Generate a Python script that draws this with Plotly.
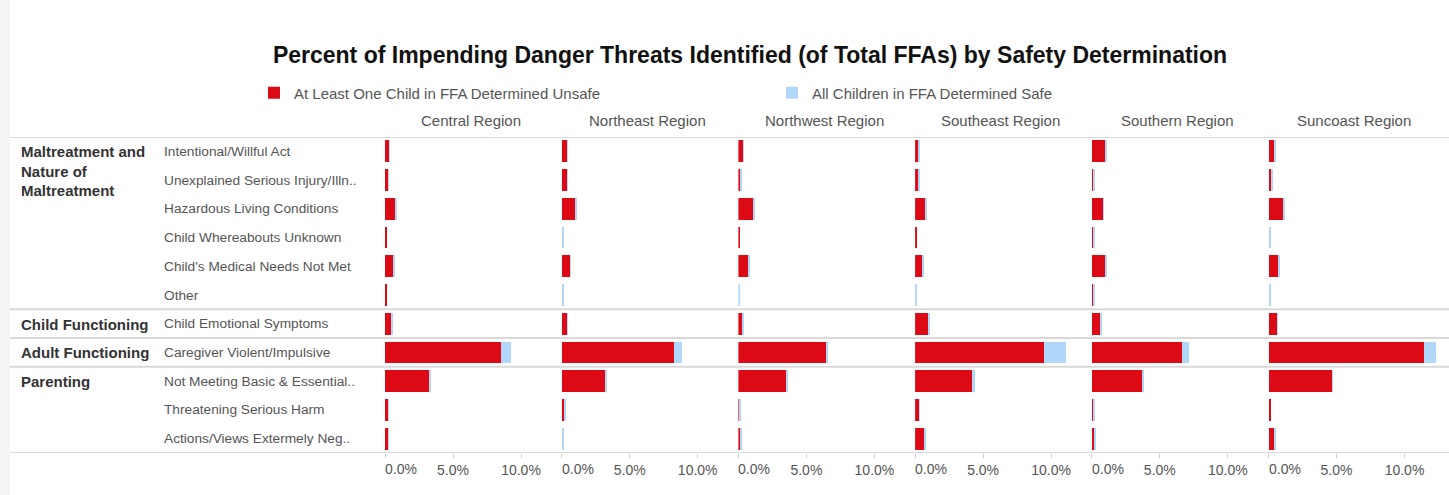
import plotly.graph_objects as go

W, H = 1449, 495

regions = ['Central Region', 'Northeast Region', 'Northwest Region',
           'Southeast Region', 'Southern Region', 'Suncoast Region']

threats = ['Intentional/Willful Act', 'Unexplained Serious Injury/Illn..',
           'Hazardous Living Conditions', 'Child Whereabouts Unknown',
           "Child's Medical Needs Not Met", 'Other',
           'Child Emotional Symptoms', 'Caregiver Violent/Impulsive',
           'Not Meeting Basic & Essential..', 'Threatening Serious Harm',
           'Actions/Views Extermely Neg..']

groups = ['Maltreatment and<br>Nature of<br>Maltreatment', 'Child Functioning',
          'Adult Functioning', 'Parenting']
group_first_row = [0, 6, 7, 8]

tick_values = [0, 5, 10]
tick_labels = ['0.0%', '5.0%', '10.0%']

# percent of FFAs, red segment (unsafe) and light-blue segment (safe)
unsafe_central = [0.30, 0.25, 0.79, 0.10, 0.66, 0.10, 0.47, 8.50, 3.20, 0.24, 0.25]
safe_central = [0.05, 0.03, 0.06, 0.00, 0.05, 0.00, 0.05, 0.74, 0.20, 0.03, 0.04]

unsafe_northeast = [0.37, 0.37, 1.00, 0.00, 0.59, 0.00, 0.37, 8.24, 3.20, 0.17, 0.07]
safe_northeast = [0.07, 0.03, 0.07, 0.08, 0.07, 0.08, 0.07, 0.61, 0.10, 0.07, 0.03]

unsafe_northwest = [0.37, 0.20, 1.13, 0.15, 0.80, 0.00, 0.34, 6.50, 3.55, 0.10, 0.20]
safe_northwest = [0.07, 0.07, 0.07, 0.00, 0.08, 0.08, 0.10, 0.07, 0.10, 0.05, 0.05]

unsafe_southeast = [0.27, 0.27, 0.80, 0.12, 0.56, 0.00, 0.93, 9.50, 4.20, 0.30, 0.73]
safe_southeast = [0.07, 0.03, 0.08, 0.00, 0.10, 0.08, 0.17, 1.60, 0.20, 0.04, 0.05]

unsafe_southern = [0.96, 0.10, 0.81, 0.10, 0.96, 0.10, 0.61, 6.65, 3.70, 0.10, 0.22]
safe_southern = [0.17, 0.07, 0.07, 0.07, 0.07, 0.07, 0.08, 0.53, 0.10, 0.07, 0.07]

unsafe_suncoast = [0.42, 0.22, 1.03, 0.00, 0.71, 0.00, 0.59, 11.45, 4.64, 0.14, 0.42]
safe_suncoast = [0.07, 0.07, 0.10, 0.08, 0.10, 0.08, 0.07, 0.85, 0.06, 0.00, 0.07]

unsafe = [unsafe_central, unsafe_northeast, unsafe_northwest,
          unsafe_southeast, unsafe_southern, unsafe_suncoast]
safe = [safe_central, safe_northeast, safe_northwest,
        safe_southeast, safe_southern, safe_suncoast]

RED = '#DC0A14'
BLUE = '#B0D6FA'
FONT = 'Liberation Sans, Arial, sans-serif'


def px(x):
    return x / W


def py(y):
    return 1 - y / H


fig = go.Figure()

for i, reg in enumerate(regions):
    xa = 'x' if i == 0 else f'x{i + 1}'
    fig.add_trace(go.Bar(y=threats, x=unsafe[i], orientation='h', xaxis=xa, yaxis='y',
                         marker=dict(color=RED, line=dict(width=0)), width=0.76,
                         name='At Least One Child in FFA Determined Unsafe',
                         showlegend=(i == 0), legend='legend'))
    fig.add_trace(go.Bar(y=threats, x=safe[i], orientation='h', xaxis=xa, yaxis='y',
                         marker=dict(color=BLUE, line=dict(width=0)), width=0.76,
                         name='All Children in FFA Determined Safe',
                         showlegend=(i == 0), legend='legend2'))

layout = dict(
    width=W, height=H,
    margin=dict(l=0, r=0, t=0, b=0, autoexpand=False),
    paper_bgcolor='white', plot_bgcolor='white',
    barmode='stack', bargap=0.24,
    font=dict(family=FONT, size=13, color='#555555'),
    title=dict(text='<b>Percent of Impending Danger Threats Identified (of Total FFAs) by Safety Determination</b>',
               x=px(750), xanchor='center', y=py(55), yanchor='middle',
               font=dict(size=23, color='#111111', family=FONT)),
    yaxis=dict(domain=[py(453), py(137)], type='category', categoryorder='array',
               categoryarray=threats, range=[10.5, -0.5], showticklabels=False,
               showgrid=False, zeroline=False, showline=False, anchor='x',
               automargin=False),
    legend=dict(orientation='h', x=px(254), y=py(93), xanchor='left', yanchor='middle',
                font=dict(size=15, color='#555555'), bgcolor='rgba(0,0,0,0)'),
    legend2=dict(orientation='h', x=px(772), y=py(93), xanchor='left', yanchor='middle',
                 font=dict(size=15, color='#555555'), bgcolor='rgba(0,0,0,0)'),
    showlegend=True,
)

step = 176.7
pw = 13.6 * 12.6
annotations = []
for i, reg in enumerate(regions):
    x0 = 385 + step * i
    xr = 'x' if i == 0 else f'x{i + 1}'
    key = 'xaxis' if i == 0 else f'xaxis{i + 1}'
    # first tick label is drawn separately, left-aligned on its tick
    layout[key] = dict(domain=[px(x0), px(x0 + pw)], range=[0, 12.6], anchor='y',
                       tickvals=tick_values, ticktext=[''] + tick_labels[1:],
                       ticks='outside', ticklen=4, tickcolor='#cccccc',
                       showgrid=False, zeroline=False, showline=False, automargin=False,
                       tickfont=dict(size=14, color='#555555'), fixedrange=True)
    annotations.append(dict(text=tick_labels[0], xref=xr, x=tick_values[0], yref='paper',
                            y=py(469), showarrow=False, xanchor='left', yanchor='middle',
                            xshift=-2, font=dict(size=14, color='#555555')))
    annotations.append(dict(text=reg, xref=xr + ' domain',
                            x=0.5, yref='paper', y=py(120), showarrow=False,
                            xanchor='center', yanchor='middle',
                            font=dict(size=15, color='#555555')))

for t in threats:
    annotations.append(dict(text=t, xref='paper', x=px(162), yref='y', y=t,
                            showarrow=False, xanchor='left', yanchor='middle',
                            font=dict(size=13.7, color='#555555')))

for g, r in zip(groups, group_first_row):
    annotations.append(dict(text=f'<b>{g}</b>', xref='paper', x=px(19), yref='y', y=threats[r],
                            showarrow=False, xanchor='left', yanchor='top', yshift=10,
                            align='left', font=dict(size=15, color='#333333')))

layout['annotations'] = annotations

shapes = [dict(type='rect', xref='paper', yref='paper', x0=0, x1=px(10), y0=0, y1=1,
               fillcolor='#f4f4f4', line=dict(width=0), layer='below')]
for yv in [-0.5, 5.5, 6.5, 7.5, 10.5]:
    shapes.append(dict(type='line', xref='paper', yref='y', x0=px(10), x1=1,
                       y0=yv, y1=yv, line=dict(color='#d9d9d9', width=2)))
layout['shapes'] = shapes

fig.update_layout(**layout)
fig.write_html('out.html', config={'displayModeBar': False},
               post_script="document.body.style.margin='0';document.body.style.overflow='hidden';")
